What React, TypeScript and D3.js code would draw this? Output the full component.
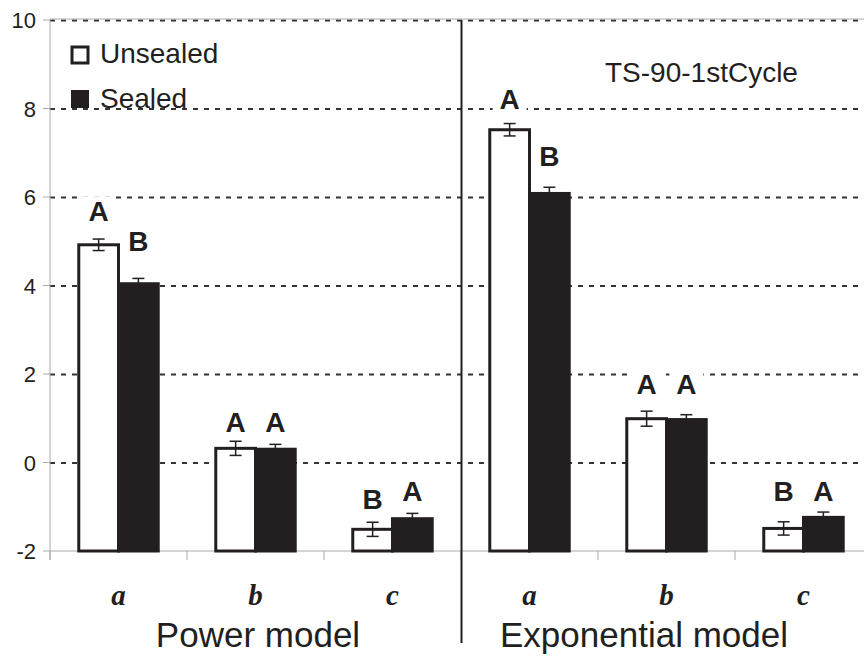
import React from "react";
import * as d3 from "d3";

const categories = ["Power-a", "Power-b", "Power-c", "Exp-a", "Exp-b", "Exp-c"];
const catLabels = ["a", "b", "c", "a", "b", "c"];
const unsealed = [4.92, 0.32, -1.51, 7.52, 0.99, -1.49];
const unsealedErr = [0.13, 0.16, 0.16, 0.14, 0.17, 0.15];
const sealed = [4.04, 0.3, -1.27, 6.08, 0.97, -1.24];
const sealedErr = [0.12, 0.11, 0.12, 0.14, 0.11, 0.12];
const unsealedLetters = ["A", "A", "B", "A", "A", "B"];
const sealedLetters = ["B", "A", "A", "B", "A", "A"];
const unsealedLetterPos = [5.45, 0.7, -1.06, 7.98, 1.54, -0.86];
const sealedLetterPos = [4.77, 0.7, -0.86, 6.69, 1.54, -0.86];
const yTicks = [-2, 0, 2, 4, 6, 8, 10];
const gridTicks = [0, 2, 4, 6, 8, 10];
const modelLabels = ["Power model", "Exponential model"];
const seriesNames = ["Unsealed", "Sealed"];
const title = "TS-90-1stCycle";

const W = 864;
const H = 658;
const left = 50;
const right = 872;
const top = 20;
const bottom = 551;

export default function App() {
  const x = d3.scaleBand<string>().domain(categories).range([left, right]).padding(0);
  const y = d3.scaleLinear().domain([-2, 10]).range([bottom, top]);
  const bw = x.bandwidth();
  const barW = bw * 0.29;
  const dark = "#231f20";
  const sans = "'Liberation Sans', Arial, sans-serif";
  const boundaries = d3.range(categories.length + 1).map((i) => left + i * bw);

  const bars: React.ReactNode[] = [];
  const boxes: React.ReactNode[] = [];
  const letters: React.ReactNode[] = [];
  categories.forEach((c, i) => {
    const cx = (x(c) as number) + bw / 2;
    const series = [
      { v: unsealed[i], e: unsealedErr[i], fill: "#ffffff", x0: cx - barW, letter: unsealedLetters[i], lp: unsealedLetterPos[i] },
      { v: sealed[i], e: sealedErr[i], fill: dark, x0: cx, letter: sealedLetters[i], lp: sealedLetterPos[i] },
    ];
    series.forEach((s, j) => {
      const yt = y(s.v);
      const ex = s.x0 + barW / 2;
      bars.push(
        <g key={`b${i}-${j}`}>
          <rect x={s.x0} y={yt} width={barW} height={y(-2) - yt} fill={s.fill} stroke={dark} strokeWidth={3} />
          <line x1={ex} x2={ex} y1={y(s.v + s.e)} y2={y(s.v - s.e)} stroke={dark} strokeWidth={1.5} />
          <line x1={ex - 6} x2={ex + 6} y1={y(s.v + s.e)} y2={y(s.v + s.e)} stroke={dark} strokeWidth={1.5} />
          <line x1={ex - 6} x2={ex + 6} y1={y(s.v - s.e)} y2={y(s.v - s.e)} stroke={dark} strokeWidth={1.5} />
        </g>
      );
      const ly = y(s.lp);
      boxes.push(<rect key={`r${i}-${j}`} x={ex - 17} y={ly - 25} width={34} height={27} fill="#ffffff" />);
      letters.push(
        <text key={`t${i}-${j}`} x={ex} y={ly} textAnchor="middle" fontFamily={sans} fontWeight="bold" fontSize={28} fill={dark}>
          {s.letter}
        </text>
      );
    });
  });

  return (
    <svg width={W} height={H} style={{ position: "absolute", left: 0, top: 0, background: "#fff" }}>
      {gridTicks.map((t) => (
        <line key={`g${t}`} x1={left} x2={W} y1={y(t) + 0.5} y2={y(t) + 0.5} stroke="#333" strokeWidth={2} strokeDasharray="5,6" />
      ))}
      <line x1={left} x2={W} y1={top - 1} y2={top - 1} stroke="#aaa" strokeWidth={1} />
      <line x1={left} x2={left} y1={top} y2={bottom + 9} stroke="#aaa" strokeWidth={1} />
      {yTicks.map((t) => (
        <g key={`yt${t}`}>
          <line x1={left - 7} x2={left} y1={y(t)} y2={y(t)} stroke="#aaa" strokeWidth={1} />
          <text x={left - 14} y={y(t) + 8} textAnchor="end" fontFamily={sans} fontSize={22} fill={dark}>
            {t}
          </text>
        </g>
      ))}
      <line x1={left} x2={W} y1={bottom} y2={bottom} stroke="#aaa" strokeWidth={1} />
      {boundaries.map((b, i) => (
        <line key={`xt${i}`} x1={b} x2={b} y1={bottom} y2={bottom + 9} stroke="#aaa" strokeWidth={1} />
      ))}
      {boxes}
      {bars}
      {letters}
      <line x1={boundaries[3] + 0.5} x2={boundaries[3] + 0.5} y1={top} y2={643} stroke={dark} strokeWidth={2} />
      {categories.map((c, i) => (
        <text key={`c${i}`} x={(x(c) as number) + bw / 2} y={605} textAnchor="middle" fontFamily="'Liberation Serif', 'Times New Roman', serif" fontWeight="bold" fontStyle="italic" fontSize={29} fill={dark}>
          {catLabels[i]}
        </text>
      ))}
      <text x={258} y={647} textAnchor="middle" fontFamily={sans} fontSize={35} fill={dark}>
        {modelLabels[0]}
      </text>
      <text x={644} y={647} textAnchor="middle" fontFamily={sans} fontSize={35} fill={dark}>
        {modelLabels[1]}
      </text>
      <rect x={72} y={47} width={16} height={16} fill="#fff" stroke={dark} strokeWidth={3} />
      <text x={100} y={63} fontFamily={sans} fontSize={28} fill={dark}>
        {seriesNames[0]}
      </text>
      <rect x={71} y={90} width={18} height={18} fill={dark} />
      <text x={100} y={108} fontFamily={sans} fontSize={28} fill={dark}>
        {seriesNames[1]}
      </text>
      <text x={605} y={82} fontFamily={sans} fontSize={28} fill={dark}>
        {title}
      </text>
    </svg>
  );
}
